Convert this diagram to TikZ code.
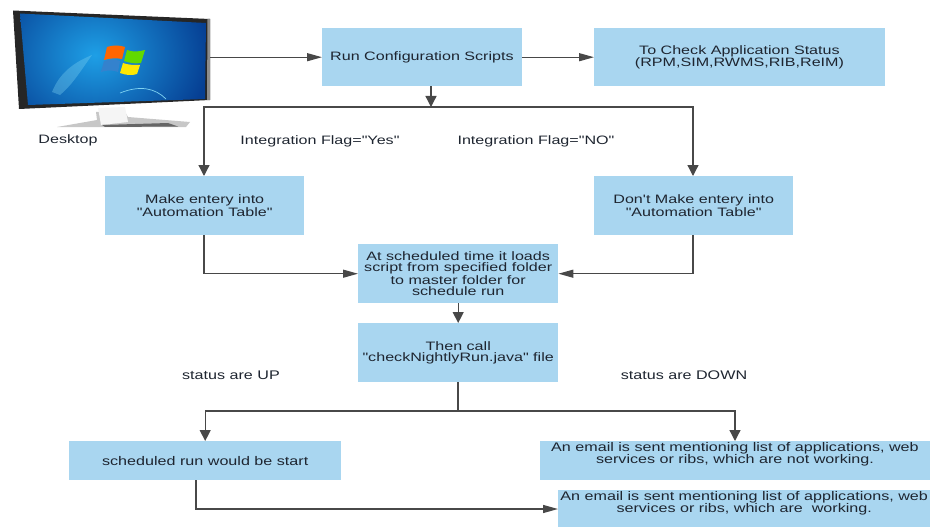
\documentclass[tikz,border=0pt]{standalone}
\usepackage{fontspec}
\setmainfont{Liberation Sans}
\newfontfamily\widefont[FakeStretch=1.32]{Liberation Sans}
\newfontfamily\plainfont[FakeStretch=1.29]{Liberation Sans}
\usetikzlibrary{arrows.meta,calc}
\definecolor{boxblue}{HTML}{A9D6F0}
\definecolor{linegrey}{HTML}{484848}
\definecolor{inkdark}{HTML}{1E2530}
\definecolor{screenmid}{HTML}{1E9FE6}
\definecolor{screenout}{HTML}{063F93}
\definecolor{beam}{HTML}{7FD3F2}
\tikzset{
  flowbox/.style={fill=boxblue,draw=none,inner sep=0pt,anchor=north west,align=center,text=inkdark},
  wide/.style={font=\widefont\fontsize{12.2}{10.9}\selectfont},
  plain/.style={font=\plainfont\fontsize{12.5}{10.9}\selectfont},
  caption/.style={text=inkdark,inner sep=0pt,align=center},
  link/.style={draw=linegrey,line width=1.3pt},
  flowh/.style={link,-{Triangle[length=15pt,width=8pt]}},
  flowv/.style={link,-{Triangle[length=11pt,width=11pt]}},
}
\begin{document}
\begin{tikzpicture}[x=1pt,y=-1pt]
\useasboundingbox (0,0) rectangle (930,527);
% ---- monitor
\fill[black!22] (96,112) -- (125,112) -- (128,117) -- (190,122) -- (186,127) -- (57,127) -- (97,120) -- cycle;
\fill[black!4] (98,108) -- (125,107) -- (128,122) -- (101,125) -- cycle;
\fill[black!60] (102,125) -- (168,123) -- (178,126.5) -- (105,127) -- cycle;
\fill[black!85] (13,10.5) -- (210,19) -- (210,100) -- (19,109) -- cycle;
\fill[black!45] (207.5,19) -- (210,19) -- (210,100) -- (207,100) -- cycle;
\begin{scope}
\clip (20,13.5) -- (206,23) -- (205,99) -- (28,105) -- cycle;
\shade[inner color=screenmid,outer color=screenout] (-20,-40) rectangle (210,150);
\fill[beam,opacity=.35] (52,92) .. controls (60,72) and (75,62) .. (92,55) .. controls (80,72) and (72,85) .. (60,95) -- cycle;
\draw[beam,line width=.7pt] (120,93) .. controls (140,85) and (155,88) .. (166,99);
\end{scope}
\fill[orange!80!red] (107,47) .. controls (113,45) and (119,45) .. (125,47) -- (122,59) .. controls (117,58) and (110,58) .. (104,60) -- cycle;
\fill[green!55!yellow!85!black] (127,50) .. controls (132,52) and (138,52) .. (145,50) -- (141,63) .. controls (135,64) and (130,63) .. (124,61) -- cycle;
\fill[cyan!55!blue!85] (104,61) .. controls (110,59) and (115,59) .. (120,61) -- (118,72) .. controls (113,70) and (107,70) .. (101,72) -- cycle;
\fill[yellow!90!orange] (123,63) .. controls (128,65) and (134,65) .. (140,65) -- (137,74) .. controls (131,76) and (126,75) .. (120,73) -- cycle;
\node[minimum width=198pt,minimum height=90pt,inner sep=0pt,anchor=north west] (desktop) at (12,15) {};
% ---- boxes
\node[flowbox,wide,minimum width=199.5pt,minimum height=58pt] (run) at (322,28) {Run Configuration Scripts};
\node[flowbox,wide,minimum width=290.5pt,minimum height=58pt] (status) at (594,28) {To Check Application Status\\(RPM,SIM,RWMS,RIB,ReIM)};
\node[flowbox,wide,minimum width=199pt,minimum height=59pt] (make) at (105,176) {Make entery into\\"Automation Table"};
\node[flowbox,wide,minimum width=199pt,minimum height=59pt] (dont) at (594,176) {Don't Make entery into\\"Automation Table"};
\node[flowbox,wide,minimum width=200pt,minimum height=59pt] (load) at (358,244) {At scheduled time it loads\\script from specified folder\\to master folder for\\schedule run};
\node[flowbox,wide,minimum width=200pt,minimum height=59pt] (call) at (358,323) {Then call\\"checkNightlyRun.java" file};
\node[flowbox,plain,minimum width=272pt,minimum height=39pt] (start) at (69,441) {scheduled run would be start};
\node[flowbox,plain,minimum width=389.5pt,minimum height=39pt,label={[plain,caption,yshift=6.5pt]center:An email is sent mentioning list of applications, web\\services or ribs, which are not working.}] (down) at (540,441) {};
\node[flowbox,plain,minimum width=372pt,minimum height=37pt,label={[plain,caption,yshift=5.5pt]center:An email is sent mentioning list of applications, web\\services or ribs, which are\ \ working.}] (up) at (558,490) {};
% ---- captions
\node[caption,wide] (desk) at (68,140.5) {Desktop};
\node[caption,wide] (yes) at (320,141) {Integration Flag="Yes"};
\node[caption,wide] (no) at (536,141) {Integration Flag="NO"};
\node[caption,plain] (stup) at (231,375) {status are UP};
\node[caption,plain] (stdown) at (684,375) {status are DOWN};
% ---- junctions
\coordinate (split) at (431,107);
\coordinate (fork) at (458,411);
% ---- connectors
\draw[flowh] (desktop.east |- run.west) -- (run.west);
\draw[flowh] (run.east) -- (status.west);
\draw[flowv] (split |- run.south) -- (split);
\draw[flowv] (split) -| (make.north -| 204,0);
\draw[flowv] (split) -| (dont.north -| 693,0);
\draw[flowh] (204,0 |- make.south) |- (load.west);
\draw[flowh] (693,0 |- dont.south) |- (load.east);
\draw[flowv] (load) -- (call);
\draw[link] (fork |- call.south) -- (fork);
\draw[flowv] (fork) -| (start.north);
\draw[flowv] (fork) -| (down.north -| 735,0);
\draw[flowh] (196,0 |- start.south) |- (up.west |- 0,509);
\end{tikzpicture}
\end{document}
